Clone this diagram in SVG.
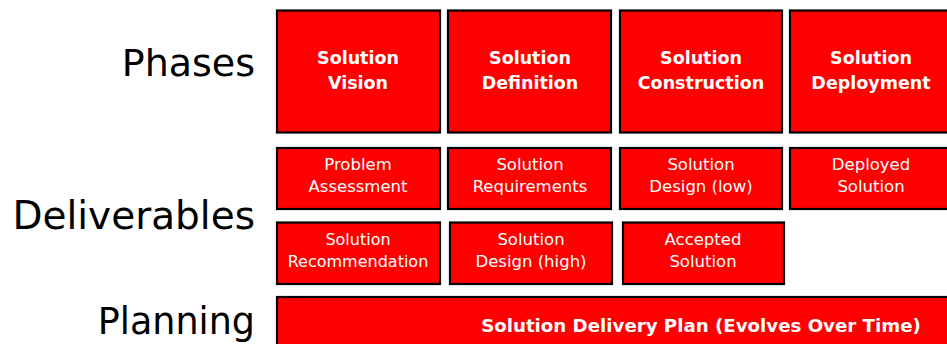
<svg xmlns="http://www.w3.org/2000/svg" width="947" height="344" viewBox="0 0 947 344">
<style>
.box{fill:#ff0000;stroke:#000;stroke-width:2.2}
.h{font-family:"DejaVu Sans",sans-serif;font-size:17.5px;font-weight:bold;fill:#fff;text-anchor:middle}
.d{font-family:"DejaVu Sans",sans-serif;font-size:16.5px;fill:#fff;text-anchor:middle}
.lab{font-family:"DejaVu Sans",sans-serif;font-size:38px;fill:#000;text-anchor:end}
</style>
<rect width="947" height="344" fill="#fff"/>
<g id="labels">
<text class="lab" x="255" y="76">Phases</text>
<text class="lab" x="255" y="229" style="font-size:39px">Deliverables</text>
<text class="lab" x="255" y="334" style="font-size:36.5px">Planning</text>
</g>
<g id="phase-vision"><rect class="box" x="277" y="10.5" width="163" height="122"/><text class="h" x="358" y="64">Solution</text><text class="h" x="358" y="89">Vision</text></g>
<g id="phase-definition"><rect class="box" x="448" y="10.5" width="163" height="122"/><text class="h" x="530" y="64">Solution</text><text class="h" x="530" y="89">Definition</text></g>
<g id="phase-construction"><rect class="box" x="620" y="10.5" width="162" height="122"/><text class="h" x="701" y="64">Solution</text><text class="h" x="701" y="89">Construction</text></g>
<g id="phase-deployment"><rect class="box" x="790" y="10.5" width="170" height="122"/><text class="h" x="871" y="64">Solution</text><text class="h" x="871" y="89">Deployment</text></g>
<g id="del-problem"><rect class="box" x="277" y="148" width="163" height="61"/><text class="d" x="358" y="170">Problem</text><text class="d" x="358" y="192">Assessment</text></g>
<g id="del-requirements"><rect class="box" x="448" y="148" width="163" height="61"/><text class="d" x="530" y="170">Solution</text><text class="d" x="530" y="192">Requirements</text></g>
<g id="del-design-low"><rect class="box" x="620" y="148" width="162" height="61"/><text class="d" x="701" y="170">Solution</text><text class="d" x="701" y="192">Design (low)</text></g>
<g id="del-deployed"><rect class="box" x="790" y="148" width="170" height="61"/><text class="d" x="871" y="170">Deployed</text><text class="d" x="871" y="192">Solution</text></g>
<g id="del-recommendation"><rect class="box" x="277" y="222.5" width="163" height="61.5"/><text class="d" x="358" y="245" style="font-size:16px">Solution</text><text class="d" x="358" y="267" style="font-size:16px">Recommendation</text></g>
<g id="del-design-high"><rect class="box" x="450" y="222.5" width="162" height="61.5"/><text class="d" x="531" y="245">Solution</text><text class="d" x="531" y="267">Design (high)</text></g>
<g id="del-accepted"><rect class="box" x="623" y="222.5" width="161" height="61.5"/><text class="d" x="703" y="245">Accepted</text><text class="d" x="703" y="267">Solution</text></g>
<g id="planning"><rect class="box" x="277" y="297" width="690" height="60"/><text class="h" x="701" y="332" style="font-size:18.2px">Solution Delivery Plan (Evolves Over Time)</text></g>
<g id="connectors"/>
</svg>
